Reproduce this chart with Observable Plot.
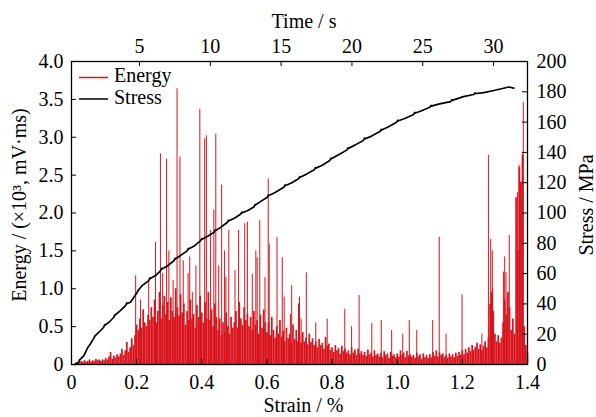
<!DOCTYPE html>
<html><head><meta charset="utf-8">
<script src="https://cdn.jsdelivr.net/npm/d3@7"></script>
<script src="https://cdn.jsdelivr.net/npm/@observablehq/plot@0.6"></script>
<style>body{margin:0;background:#fff}</style>
</head><body><div id="chart"></div>
<script>
// ---- data ----
const strainTicks = [0, 0.2, 0.4, 0.6, 0.8, 1.0, 1.2, 1.4];
const energyTicks = [0, 0.5, 1.0, 1.5, 2.0, 2.5, 3.0, 3.5, 4.0];
const stressTicks = [0, 20, 40, 60, 80, 100, 120, 140, 160, 180, 200];
const timeTicks = [5, 10, 15, 20, 25, 30];
const timeZeroStrain = -0.0086;   // strain at t = 0 s
const strainPerSecond = 0.04348;  // strain per second
const stressPerEnergy = 50;       // 200 MPa <-> 4.0 energy units

// dense energy record, sampled every 0.005 % strain from 0
const baseStart = 0, baseStep = 0.005;
const baseEnergy = [
 0,0,0,0.02,0.03,0.02,0.04,0.03,0.05,0.03,
 0.04,0.06,0.03,0.05,0.04,0.07,0.05,0.06,0.04,0.06,
 0.05,0.08,0.06,0.10,0.16,0.07,0.11,0.09,0.13,0.10,
 0.14,0.20,0.12,0.18,0.29,0.16,0.22,0.34,0.25,0.38,
 0.52,0.45,0.60,0.48,0.72,0.55,0.50,0.65,0.58,0.75,
 0.62,0.85,0.55,0.70,0.95,0.60,0.78,0.90,0.66,0.82,
 0.58,0.88,0.70,0.62,1.00,0.75,0.64,0.92,0.68,0.80,
 0.52,0.70,0.58,0.85,0.60,0.66,0.48,0.78,0.62,0.90,
 0.68,0.55,0.82,0.60,0.95,0.58,0.72,0.50,0.80,0.62,
 0.45,0.60,0.38,0.55,0.42,0.68,0.50,0.40,0.62,0.48,
 0.55,0.70,0.48,0.82,0.60,0.52,0.75,0.58,0.66,0.50,
 0.62,0.45,0.70,0.52,0.58,0.40,0.65,0.48,0.72,0.55,
 0.42,0.55,0.38,0.62,0.45,0.35,0.50,0.40,0.58,0.36,
 0.44,0.30,0.48,0.34,0.40,0.28,0.52,0.33,0.45,0.30,
 0.38,0.28,0.42,0.30,0.35,0.26,0.40,0.29,0.34,0.25,
 0.30,0.22,0.33,0.25,0.28,0.20,0.36,0.24,0.27,0.19,
 0.22,0.16,0.25,0.18,0.21,0.14,0.24,0.17,0.20,0.15,
 0.18,0.13,0.22,0.15,0.19,0.12,0.20,0.14,0.17,0.12,
 0.16,0.11,0.19,0.13,0.15,0.10,0.18,0.12,0.14,0.10,
 0.15,0.09,0.17,0.12,0.14,0.08,0.16,0.11,0.13,0.09,
 0.14,0.10,0.18,0.12,0.15,0.09,0.17,0.11,0.13,0.10,
 0.12,0.08,0.15,0.10,0.13,0.07,0.14,0.09,0.12,0.08,
 0.13,0.09,0.16,0.11,0.18,0.10,0.15,0.12,0.14,0.09,
 0.12,0.08,0.14,0.10,0.13,0.09,0.15,0.11,0.16,0.12,
 0.18,0.13,0.20,0.15,0.22,0.17,0.25,0.19,0.23,0.28,
 0.20,0.26,0.18,0.24,0.30,0.22,0.35,0.80,0.95,0.70,
 0.40,0.30,0.38,0.28,0.35,0.55,0.85,0.65,0.95,0.75,
 0.45,0.60,0.40,2.20,1.50,2.60,2.40,2.75,0.50,0.25,
 0.15
];

// isolated energy spikes [strain %, energy]
const spikes = [
 [0.197,1.17],[0.212,0.85],[0.237,1.10],[0.258,1.61],[0.273,2.78],[0.280,1.20],
 [0.292,2.71],[0.299,1.50],[0.312,1.11],[0.324,3.64],[0.333,2.74],[0.343,1.37],
 [0.358,1.20],[0.363,1.42],[0.371,0.95],[0.382,1.30],[0.394,3.37],[0.409,2.98],
 [0.414,3.02],[0.427,1.77],[0.437,2.04],[0.443,3.04],[0.452,1.30],[0.461,2.37],
 [0.470,1.50],[0.474,1.15],[0.483,1.77],[0.502,1.24],[0.513,1.77],[0.532,1.86],
 [0.540,1.88],[0.555,1.19],[0.566,1.50],[0.570,1.41],[0.578,1.90],[0.594,1.15],
 [0.604,2.45],[0.607,1.59],[0.631,1.68],[0.647,1.41],[0.653,0.89],[0.672,0.66],
 [0.676,1.04],[0.697,0.80],[0.700,0.89],[0.705,0.60],[0.721,1.21],[0.750,0.55],
 [0.785,0.60],[0.839,0.73],[0.860,0.50],[0.883,0.91],[0.922,0.54],[0.951,0.58],
 [0.983,0.45],[1.017,0.40],[1.037,0.58],[1.060,0.45],[1.109,0.58],[1.129,1.68],
 [1.150,0.40],[1.199,0.92],[1.260,0.40],[1.280,2.76],[1.287,1.65],[1.292,1.50],
 [1.293,1.02],[1.326,1.22],[1.330,1.42],[1.334,1.21],[1.338,0.93],[1.344,1.70],
 [1.369,2.27],[1.374,2.63],[1.379,2.41],[1.384,2.78],[1.387,3.46]
];

// stress curve [strain %, stress MPa], including the small load-drop hooks
const stress = [
 [0.009,0],[0.022,1.5],[0.026,3.4],[0.024,2.8],[0.038,5.9],[0.048,10.3],[0.052,11.8],[0.050,11.2],
 [0.058,13.6],[0.069,17.6],[0.073,19.3],[0.071,18.6],[0.084,21.3],[0.099,24.6],[0.103,26.4],[0.101,25.7],
 [0.115,27.9],[0.130,31.2],[0.134,33],[0.132,32.3],[0.150,35.6],[0.166,38.9],[0.170,40.6],[0.168,39.9],
 [0.181,41.1],[0.202,47.7],[0.206,49.4],[0.204,48.7],[0.217,52.1],[0.237,55.4],[0.241,57.1],[0.239,56.4],
 [0.258,58.7],[0.273,61.8],[0.277,63.4],[0.275,62.7],[0.294,65],[0.314,68.4],[0.318,70],[0.316,69.3],
 [0.335,72],[0.355,75],[0.359,76.6],[0.357,75.9],[0.375,78],[0.396,81.6],[0.400,83.1],[0.398,82.4],
 [0.417,84.5],[0.437,87.1],[0.441,88.7],[0.439,88],[0.458,90.5],[0.478,93.7],[0.482,95.2],[0.480,94.5],
 [0.500,96.5],[0.519,99.2],[0.523,100.6],[0.521,99.9],[0.540,101.5],[0.560,104],[0.564,105.6],[0.562,104.9],
 [0.580,107.5],[0.601,110.4],[0.605,111.9],[0.603,111.2],[0.625,113.5],[0.652,117],[0.656,118.5],[0.654,117.8],
 [0.675,119.8],[0.697,122.6],[0.701,124],[0.699,123.3],[0.720,125.5],[0.745,128.5],[0.749,130],[0.747,129.3],
 [0.770,131.5],[0.793,134.7],[0.797,136.2],[0.795,135.5],[0.820,138.5],[0.845,141.5],[0.849,143],[0.847,142.3],
 [0.870,144.8],[0.896,147.9],[0.900,149.4],[0.898,148.7],[0.920,150.6],[0.947,153.8],[0.951,155.2],[0.949,154.5],
 [0.972,156.8],[0.998,159.9],[1.002,161.3],[1.000,160.6],[1.025,162.5],[1.050,165],[1.054,166.4],[1.052,165.7],
 [1.075,167.5],[1.100,169.8],[1.104,171],[1.102,170.4],[1.130,172],[1.164,173.5],[1.168,174.8],[1.166,174.2],
 [1.185,175.5],[1.203,176.8],[1.235,178.2],[1.239,179.2],[1.237,178.7],[1.266,179.5],[1.300,181],[1.320,182],
 [1.343,183.2],[1.358,182.4]
];

// ---- chart ----
const W = 596, H = 417, mL = 71, mR = 69, mT = 61, mB = 53;
const pw = W - mL - mR, ph = H - mT - mB;
const red = "#d8141c";
const font = "'Liberation Serif', 'Times New Roman', serif";
const timeToStrain = t => timeZeroStrain + t * strainPerSecond;

const baseRows = baseEnergy.map((e, i) => ({x: baseStart + i * baseStep, e}));
const spikeRows = spikes.map(([x, e]) => ({x, e}));
const stressRows = stress.map(([x, s]) => ({x, y: s / stressPerEnergy}));
const fmt1 = d => d === 0 ? "0" : d.toFixed(1);

const chart = Plot.plot({
  width: W, height: H,
  marginLeft: mL, marginRight: mR, marginTop: mT, marginBottom: mB,
  x: {domain: [0, 1.4]},
  y: {domain: [0, 4]},
  style: {fontFamily: font, fontSize: "20px", color: "#000", background: "#fff"},
  marks: [
    Plot.ruleX(baseRows, {x: "x", y1: 0, y2: "e", stroke: red, strokeWidth: 1.7}),
    Plot.ruleX(spikeRows, {x: "x", y1: 0, y2: "e", stroke: red, strokeWidth: 1}),
    Plot.line(stressRows, {x: "x", y: "y", stroke: "#000", strokeWidth: 1.7, strokeLinejoin: "round"}),
    Plot.frame({stroke: "#000", strokeWidth: 1.3}),
    Plot.ruleX(strainTicks, {x: d => d, insetTop: ph - 5, stroke: "#000"}),
    Plot.ruleX(timeTicks.map(timeToStrain), {x: d => d, insetBottom: ph - 5, stroke: "#000"}),
    Plot.ruleY(energyTicks, {y: d => d, insetRight: pw - 5, stroke: "#000"}),
    Plot.ruleY(stressTicks.map(s => s / stressPerEnergy), {y: d => d, insetLeft: pw - 5, stroke: "#000"}),
    Plot.axisX(strainTicks, {anchor: "bottom", tickSize: 0, tickPadding: 10, tickFormat: fmt1, label: null}),
    Plot.axisX(timeTicks.map(timeToStrain), {anchor: "top", tickSize: 0, tickPadding: 9,
      tickFormat: d => String(Math.round((d - timeZeroStrain) / strainPerSecond)), label: null}),
    Plot.axisY(energyTicks, {anchor: "left", tickSize: 0, tickPadding: 8, tickFormat: fmt1, label: null}),
    Plot.axisY(stressTicks.map(s => s / stressPerEnergy), {anchor: "right", tickSize: 0, tickPadding: 9,
      tickFormat: d => String(Math.round(d * stressPerEnergy)), label: null})
  ]
});
document.getElementById("chart").appendChild(chart);

const svg = d3.select(chart);
const addText = (txt, x, y, opts = {}) => {
  const t = svg.append("text").attr("x", x).attr("y", y)
    .attr("font-family", font).attr("font-size", 20).attr("fill", "#000")
    .attr("text-anchor", opts.anchor || "start").text(txt);
  if (opts.rotate) t.attr("transform", `rotate(-90 ${x} ${y})`);
  return t;
};
addText("Strain / %", 303.5, 412, {anchor: "middle"});
addText("Time / s", 304, 28, {anchor: "middle"});
addText("Energy / (×10³, mV·ms)", 26, 205, {anchor: "middle", rotate: true});
addText("Stress / MPa", 593, 205, {anchor: "middle", rotate: true});
// legend
svg.append("line").attr("x1", 79).attr("x2", 108).attr("y1", 77.5).attr("y2", 77.5).attr("stroke", red).attr("stroke-width", 1.5);
addText("Energy", 114, 82);
svg.append("line").attr("x1", 79).attr("x2", 108).attr("y1", 99).attr("y2", 99).attr("stroke", "#000").attr("stroke-width", 1.5);
addText("Stress", 114, 103.5);
</script>
</body></html>
